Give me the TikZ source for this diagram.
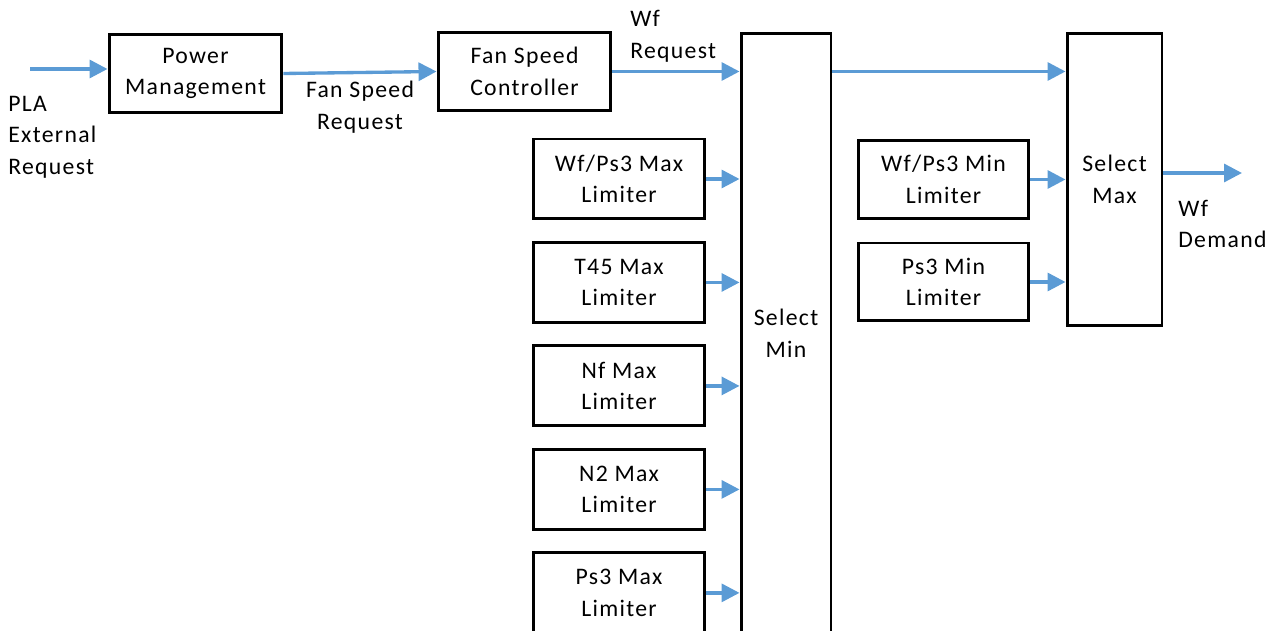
\documentclass[tikz,border=0pt]{standalone}
\usepackage{fontspec}
\setmainfont[LetterSpace=5.5]{Carlito}
\usepackage{tikz}
\usetikzlibrary{arrows.meta, positioning}

\definecolor{flowblue}{HTML}{5B9BD5}

\begin{document}
\begin{tikzpicture}[
    x=0.02cm, y=-0.02cm,
    font=\fontsize{13.5}{18}\selectfont,
    box/.style={rectangle, draw, line width=1.7pt, minimum width=3.42cm, minimum height=1.6cm, align=center},
    sel/.style={rectangle, draw, line width=1.7pt, align=center},
    arrow/.style={-{Triangle[length=3.6mm, width=3.6mm]}, line width=1.9pt, draw=flowblue},
    label/.style={align=left, anchor=west, inner sep=0pt}
]
\useasboundingbox (0,0) rectangle (1285,631);

% top chain
\node[box, minimum width=3.46cm, minimum height=1.56cm] (pm) at (195.5,73.5) {Power\\Management};
\node[box, minimum width=3.46cm, minimum height=1.56cm] (fsc) at (524.5,71.5) {Fan Speed\\Controller};
\node[sel, minimum width=1.8cm, minimum height=12cm] (selmin) at (786,333) {Select\\Min};
\node[sel, minimum width=1.9cm, minimum height=5.86cm] (selmax) at (1114.5,179.5) {Select\\Max};

% max limiters
\node[box] (wfmax) at (619,179) {Wf/Ps3 Max\\Limiter};
\node[box, below=0.41cm of wfmax] (t45max) {T45 Max\\Limiter};
\node[box, below=0.41cm of t45max] (nfmax) {Nf Max\\Limiter};
\node[box, below=0.41cm of nfmax] (n2max) {N2 Max\\Limiter};
\node[box, below=0.41cm of n2max] (ps3max) {Ps3 Max\\Limiter};

% min limiters
\node[box, minimum width=3.4cm, minimum height=1.56cm] (wfmin) at (943.5,179.5) {Wf/Ps3 Min\\Limiter};
\node[box, minimum width=3.4cm, minimum height=1.56cm] (ps3min) at (943.5,282) {Ps3 Min\\Limiter};

% signal labels
\node[label] (pla) at (8,137) {PLA\\External\\Request};
\node[align=center, inner sep=0pt] (fsreq) at (360,107) {Fan Speed\\Request};
\node[label] (wfreq) at (630,36) {Wf\\Request};
\node[label] (wfdem) at (1178,224) {Wf\\Demand};

\coordinate (plain) at (30,69);
\coordinate (wfout) at (1242,173);

\draw[arrow] (plain) -- (plain -| pm.west);
\draw[arrow] (pm.east) -- (fsc.west);
\draw[arrow] (fsc.east) -- (fsc.east -| selmin.west);
\draw[arrow] (fsc.east -| selmin.east) -- (fsc.east -| selmax.west);
\draw[arrow] (wfmax.east) -- (wfmax.east -| selmin.west);
\draw[arrow] (t45max.east) -- (t45max.east -| selmin.west);
\draw[arrow] (nfmax.east) -- (nfmax.east -| selmin.west);
\draw[arrow] (n2max.east) -- (n2max.east -| selmin.west);
\draw[arrow] (ps3max.east) -- (ps3max.east -| selmin.west);
\draw[arrow] (wfmin.east) -- (wfmin.east -| selmax.west);
\draw[arrow] (ps3min.east) -- (ps3min.east -| selmax.west);
\draw[arrow] (wfout -| selmax.east) -- (wfout);

\end{tikzpicture}
\end{document}
